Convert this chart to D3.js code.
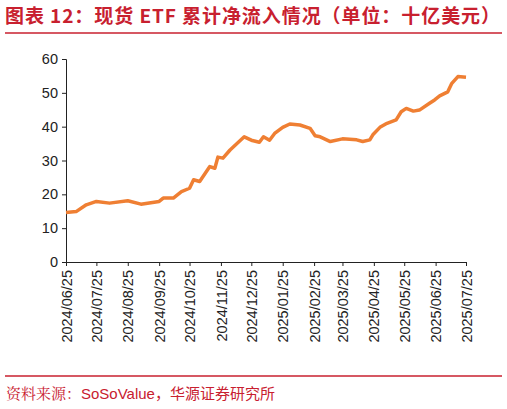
<!DOCTYPE html>
<html>
<head>
<meta charset="utf-8">
<script src="https://cdn.jsdelivr.net/npm/d3@7"></script>
<style>
  body { margin: 0; background: #fff; }
  text { font-family: Arial, "Liberation Sans", sans-serif; }
</style>
</head>
<body>
<svg width="507" height="409"></svg>
<script>
const dates = ['2024-06-25','2024-07-05','2024-07-15','2024-07-25','2024-08-07','2024-08-25','2024-09-07','2024-09-25','2024-09-29','2024-10-09','2024-10-17','2024-10-25','2024-10-29','2024-11-04','2024-11-14','2024-11-19','2024-11-22','2024-11-27','2024-12-04','2024-12-18','2024-12-25','2025-01-02','2025-01-06','2025-01-12','2025-01-17','2025-01-25','2025-02-01','2025-02-11','2025-02-21','2025-02-26','2025-03-03','2025-03-13','2025-03-25','2025-04-08','2025-04-14','2025-04-21','2025-04-24','2025-05-01','2025-05-08','2025-05-17','2025-05-22','2025-05-27','2025-06-03','2025-06-09','2025-06-19','2025-06-24','2025-06-29','2025-07-07','2025-07-11','2025-07-17','2025-07-25'];
const values = [14.6,14.9,16.9,17.9,17.4,18.1,17.1,17.9,18.9,18.9,20.8,21.8,24.3,23.8,28.2,27.7,31,30.7,33.1,37,36,35.4,37,36,38,39.8,40.8,40.5,39.5,37.3,37,35.6,36.4,36.1,35.6,36.1,37.6,39.8,41,42,44.4,45.4,44.6,44.9,46.9,47.9,49.1,50.3,52.8,54.8,54.6];
const tickLabels = ['2024/06/25','2024/07/25','2024/08/25','2024/09/25','2024/10/25','2024/11/25','2024/12/25','2025/01/25','2025/02/25','2025/03/25','2025/04/25','2025/05/25','2025/06/25','2025/07/25'];
const yTicks = [0,10,20,30,40,50,60];

const parse = d3.timeParse('%Y-%m-%d');
const tickParse = d3.timeParse('%Y/%m/%d');
const data = dates.map((d, i) => ({ date: parse(d), value: values[i] }));

const svg = d3.select('svg');
const red = '#c8202f';

svg.append('text')
  .attr('x', 5).attr('y', 23)
  .attr('fill', red)
  .attr('font-size', 19).attr('font-weight', 'bold')
  .attr('textLength', 495)
  .style('font-family', '"Noto Sans CJK SC", sans-serif')
  .text('图表 12：现货 ETF 累计净流入情况（单位：十亿美元）');

svg.append('line').attr('x1', 5).attr('x2', 502).attr('y1', 33).attr('y2', 33)
  .attr('stroke', red).attr('stroke-width', 1.5);
svg.append('line').attr('x1', 5).attr('x2', 502).attr('y1', 376).attr('y2', 376)
  .attr('stroke', red).attr('stroke-width', 1.5);

svg.append('text')
  .attr('x', 6).attr('y', 399)
  .attr('fill', red).attr('font-size', 15)
  .style('font-family', '"Noto Serif CJK SC", "Noto Sans CJK SC", serif')
  .text('资料来源：')
  .append('tspan').style('font-family', 'Arial, "Liberation Sans", sans-serif').text('SoSoValue')
  .append('tspan').style('font-family', '"Noto Sans CJK SC", serif').text('，华源证券研究所');

const x = d3.scaleTime()
  .domain([tickParse(tickLabels[0]), tickParse(tickLabels[tickLabels.length - 1])])
  .range([66, 466]);
const y = d3.scaleLinear().domain([0, 60]).range([262, 59]);

const xAxis = svg.append('g')
  .attr('transform', 'translate(0,262)')
  .call(d3.axisBottom(x).tickValues(tickLabels.map(tickParse)).tickSize(4)
    .tickFormat(d3.timeFormat('%Y/%m/%d')));
xAxis.selectAll('text')
  .attr('transform', 'rotate(-90)')
  .attr('text-anchor', 'end')
  .attr('x', -8).attr('y', 0).attr('dy', '0.35em')
  .attr('font-size', 14.5).attr('fill', '#222');

const yAxis = svg.append('g')
  .attr('transform', 'translate(66,0)')
  .call(d3.axisLeft(y).tickValues(yTicks).tickSize(4).tickPadding(4));
yAxis.selectAll('text').attr('font-size', 14.5).attr('fill', '#222');

svg.selectAll('.domain, .tick line').attr('stroke', '#222');

svg.append('path')
  .datum(data)
  .attr('fill', 'none')
  .attr('stroke', '#ef7f33')
  .attr('stroke-width', 3.5)
  .attr('stroke-linejoin', 'round')
  .attr('d', d3.line().x(d => x(d.date)).y(d => y(d.value)));
</script>
</body>
</html>
